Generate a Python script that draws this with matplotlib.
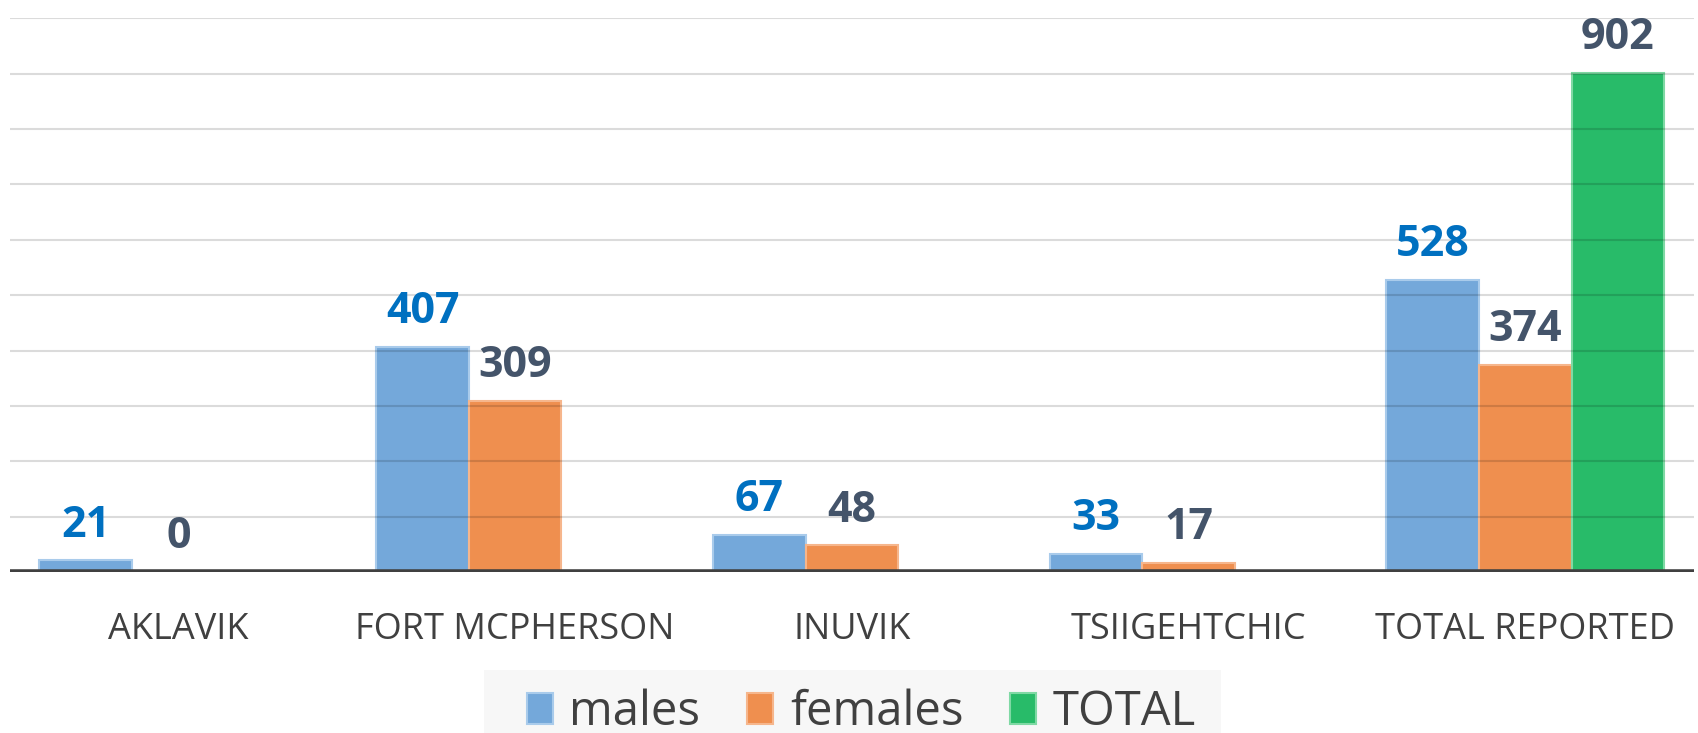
#Grouped bar chart of reported counts by community

import matplotlib
matplotlib.use("Agg")
import matplotlib.pyplot as plt
from matplotlib.patches import Patch, Rectangle
import numpy as np

#the data
categories = ["AKLAVIK", "FORT MCPHERSON", "INUVIK", "TSIIGEHTCHIC", "TOTAL REPORTED"]
males = [21, 407, 67, 33, 528]
females = [0, 309, 48, 17, 374]
totals = [None, None, None, None, 902] #only the last group has a total

#colours
c_male = "#74A8DA"
c_female = "#EF8F4F"
c_total = "#28BB69"
c_male_edge = "#A9CBEB"
c_female_edge = "#F6B68C"
c_total_edge = "#7FD9A4"
c_label_male = "#0070C0"
c_label_dark = "#44546A"
c_text = "#404040"

fig = plt.figure(figsize=(16.99, 7.33), dpi=100)
ax = fig.add_axes([0.0059, 0.2196, 0.991, 0.7554])

x = np.arange(len(categories))
w = 0.275

#bars
ax.bar(x - w, males, w, color=c_male, edgecolor=c_male_edge, linewidth=1.5, zorder=2)
ax.bar(x, females, w, color=c_female, edgecolor=c_female_edge, linewidth=1.5, zorder=2)
tot_x = [x[i] + w for i in range(len(totals)) if totals[i] is not None]
tot_v = [v for v in totals if v is not None]
ax.bar(tot_x, tot_v, w, color=c_total, edgecolor=c_total_edge, linewidth=1.5, zorder=2)

#gridlines drawn over the bars, faint
for g in range(100, 1001, 100):
    ax.axhline(g, color="black", alpha=0.14, linewidth=1.5, zorder=3)
ax.axhline(0, color="#404040", linewidth=4, zorder=4)

#value labels
lab_font = dict(family=["Open Sans", "DejaVu Sans"], fontsize=31, fontweight="bold")
for i in range(len(categories)):
    ax.annotate(str(males[i]), (x[i] - w, males[i]), xytext=(0, 10), textcoords="offset points",
                ha="center", va="bottom", color=c_label_male, **lab_font)
    ax.annotate(str(females[i]), (x[i], females[i]), xytext=(0, 10), textcoords="offset points",
                ha="center", va="bottom", color=c_label_dark, **lab_font)
for xx, v in zip(tot_x, tot_v):
    ax.annotate(str(v), (xx, v), xytext=(0, 10), textcoords="offset points",
                ha="center", va="bottom", color=c_label_dark, annotation_clip=False, **lab_font)

ax.set_xlim(-0.5, len(categories) - 0.5)
ax.set_ylim(0, 1000)
ax.set_yticks([])
ax.set_xticks(x)
ax.set_xticklabels(categories, family=["Open Sans", "DejaVu Sans"], fontsize=26, color=c_text)
ax.tick_params(axis="x", length=0, pad=29)
for s in ax.spines.values():
    s.set_visible(False)

#legend at the bottom on a light grey band
fig.patches.append(Rectangle((0.285, 0), 0.4338, 0.086, transform=fig.transFigure,
                             facecolor="#F7F7F7", edgecolor="none", zorder=0))
handles = [Patch(facecolor=c_male, edgecolor=c_male_edge, linewidth=1.5, label="males"),
           Patch(facecolor=c_female, edgecolor=c_female_edge, linewidth=1.5, label="females"),
           Patch(facecolor=c_total, edgecolor=c_total_edge, linewidth=1.5, label="TOTAL")]
leg = fig.legend(handles=handles, loc="center", bbox_to_anchor=(0.507, 0.028), ncol=3,
                 prop={"family": ["Open Sans", "DejaVu Sans"], "size": 34},
                 frameon=False, handlelength=0.55, handleheight=0.62, handletextpad=0.35,
                 columnspacing=1.0, borderpad=0, borderaxespad=0)
for t in leg.get_texts():
    t.set_color(c_text)

plt.savefig("out.png", dpi=100)
